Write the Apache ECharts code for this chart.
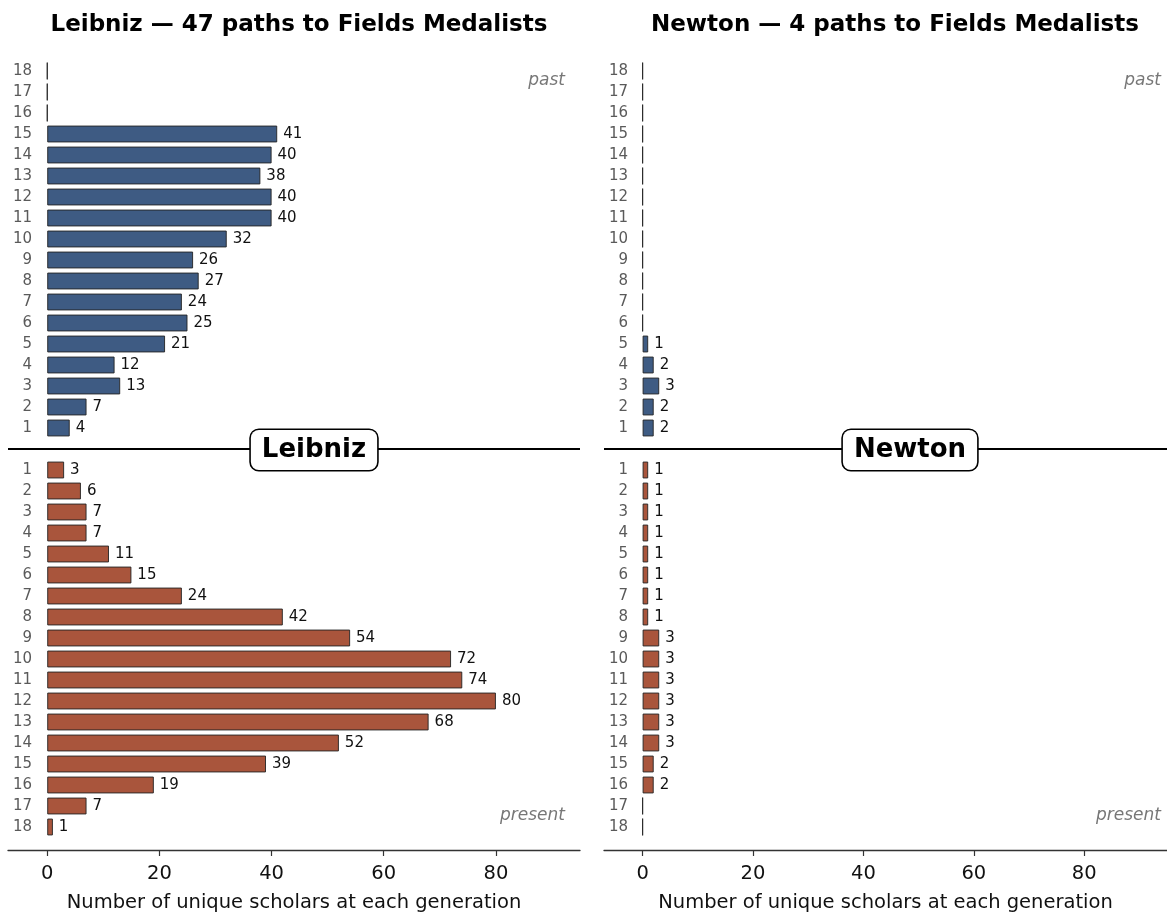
<!DOCTYPE html>
<html>
<head>
<meta charset="utf-8">
<script src="https://cdn.jsdelivr.net/npm/echarts@6/dist/echarts.min.js"></script>
<style>
html,body{margin:0;padding:0;background:#fff;}
#chart{width:1167px;height:914px;}
</style>
</head>
<body>
<div id="chart"></div>
<script>
const generations = ['1','2','3','4','5','6','7','8','9','10','11','12','13','14','15','16','17','18'];
const leibnizPast    = [4, 7, 13, 12, 21, 25, 24, 27, 26, 32, 40, 40, 38, 40, 41, 0, 0, 0];
const leibnizPresent = [3, 6, 7, 7, 11, 15, 24, 42, 54, 72, 74, 80, 68, 52, 39, 19, 7, 1];
const newtonPast     = [2, 2, 3, 2, 1, 0, 0, 0, 0, 0, 0, 0, 0, 0, 0, 0, 0, 0];
const newtonPresent  = [1, 1, 1, 1, 1, 1, 1, 1, 3, 3, 3, 3, 3, 3, 2, 2, 0, 0];
const xTicks = [0, 20, 40, 60, 80];
const panelTitles = ['Leibniz \u2014 47 paths to Fields Medalists', 'Newton \u2014 4 paths to Fields Medalists'];
const panelNames = ['Leibniz', 'Newton'];
const xAxisTitle = 'Number of unique scholars at each generation';

const FONT = 'DejaVu Sans';
const PAST_COLOR = '#3e5b83';
const PRESENT_COLOR = '#a9553c';
const X_MIN = -7, X_MAX = 95;

const panelLeft = [8, 604];
const panelWidth = 572;

const grids = [];
const xAxes = [];
const yAxes = [];
const series = [];

function addGrid(pi, isTop, data, color) {
  const idx = grids.length;
  grids.push({left: panelLeft[pi], width: panelWidth, top: isTop ? 60.5 : 459.5, height: 378, containLabel: false});
  xAxes.push({
    gridIndex: idx, type: 'value', min: X_MIN, max: X_MAX,
    show: !isTop,
    offset: isTop ? 0 : 12.5,
    axisLine: {show: true, onZero: false, lineStyle: {color: '#333', width: 1.3}},
    axisTick: {show: true, customValues: xTicks, length: 6, lineStyle: {color: '#333', width: 1.2}},
    axisLabel: {show: true, customValues: xTicks, fontFamily: FONT, fontSize: 19.5, color: '#111', margin: 14},
    splitLine: {show: false},
    name: isTop ? '' : xAxisTitle,
    nameLocation: 'middle', nameGap: 43,
    nameTextStyle: {fontFamily: FONT, fontSize: 19.5, color: '#111'}
  });
  yAxes.push({
    gridIndex: idx, type: 'category', data: generations,
    inverse: !isTop,
    axisLine: {show: false}, axisTick: {show: false}, splitLine: {show: false},
    axisLabel: {fontFamily: FONT, fontSize: 15, color: '#5a5a5a', margin: -24, align: 'right'}
  });
  series.push({
    type: 'bar', xAxisIndex: idx, yAxisIndex: idx, data: data,
    barWidth: '80%',
    itemStyle: {color: color, borderColor: '#222', borderWidth: 0.9},
    label: {
      show: true, position: 'right', distance: 6,
      fontFamily: FONT, fontSize: 15, color: '#111',
      formatter: p => (p.value === 0 ? '' : String(p.value))
    },
    silent: true, animation: false
  });
}

addGrid(0, true, leibnizPast, PAST_COLOR);
addGrid(0, false, leibnizPresent, PRESENT_COLOR);
addGrid(1, true, newtonPast, PAST_COLOR);
addGrid(1, false, newtonPresent, PRESENT_COLOR);

const graphics = [];
for (let pi = 0; pi < 2; pi++) {
  const L = panelLeft[pi], R = L + panelWidth;
  graphics.push({type: 'line', shape: {x1: L, y1: 449, x2: R, y2: 449}, style: {stroke: '#000', lineWidth: 2}, z: 10});
  const cx = L + 306;
  graphics.push({
    type: 'text', x: cx, y: 450, z: 20,
    style: {
      text: panelNames[pi], font: 'bold 26px "' + FONT + '"', fill: '#000',
      align: 'center', verticalAlign: 'middle',
      backgroundColor: '#fff', borderColor: '#000', borderWidth: 1.6, borderRadius: 8,
      padding: [7, 11, 7, 11]
    }
  });
  graphics.push({type: 'text', x: R - 15, y: 81, z: 10,
    style: {text: 'past', font: 'italic 17px "' + FONT + '"', fill: '#777', align: 'right', verticalAlign: 'middle'}});
  graphics.push({type: 'text', x: R - 15, y: 816, z: 10,
    style: {text: 'present', font: 'italic 17px "' + FONT + '"', fill: '#777', align: 'right', verticalAlign: 'middle'}});
}

const titles = panelTitles.map((t, i) => ({
  text: t, left: panelLeft[i] + panelWidth / 2, top: 9, textAlign: 'center',
  textStyle: {fontFamily: FONT, fontWeight: 'bold', fontSize: 23, color: '#000'}
}));

const chart = echarts.init(document.getElementById('chart'), null, {renderer: 'canvas'});
chart.setOption({
  animation: false,
  backgroundColor: '#fff',
  title: titles,
  grid: grids,
  xAxis: xAxes,
  yAxis: yAxes,
  series: series,
  graphic: graphics
});
</script>
</body>
</html>
